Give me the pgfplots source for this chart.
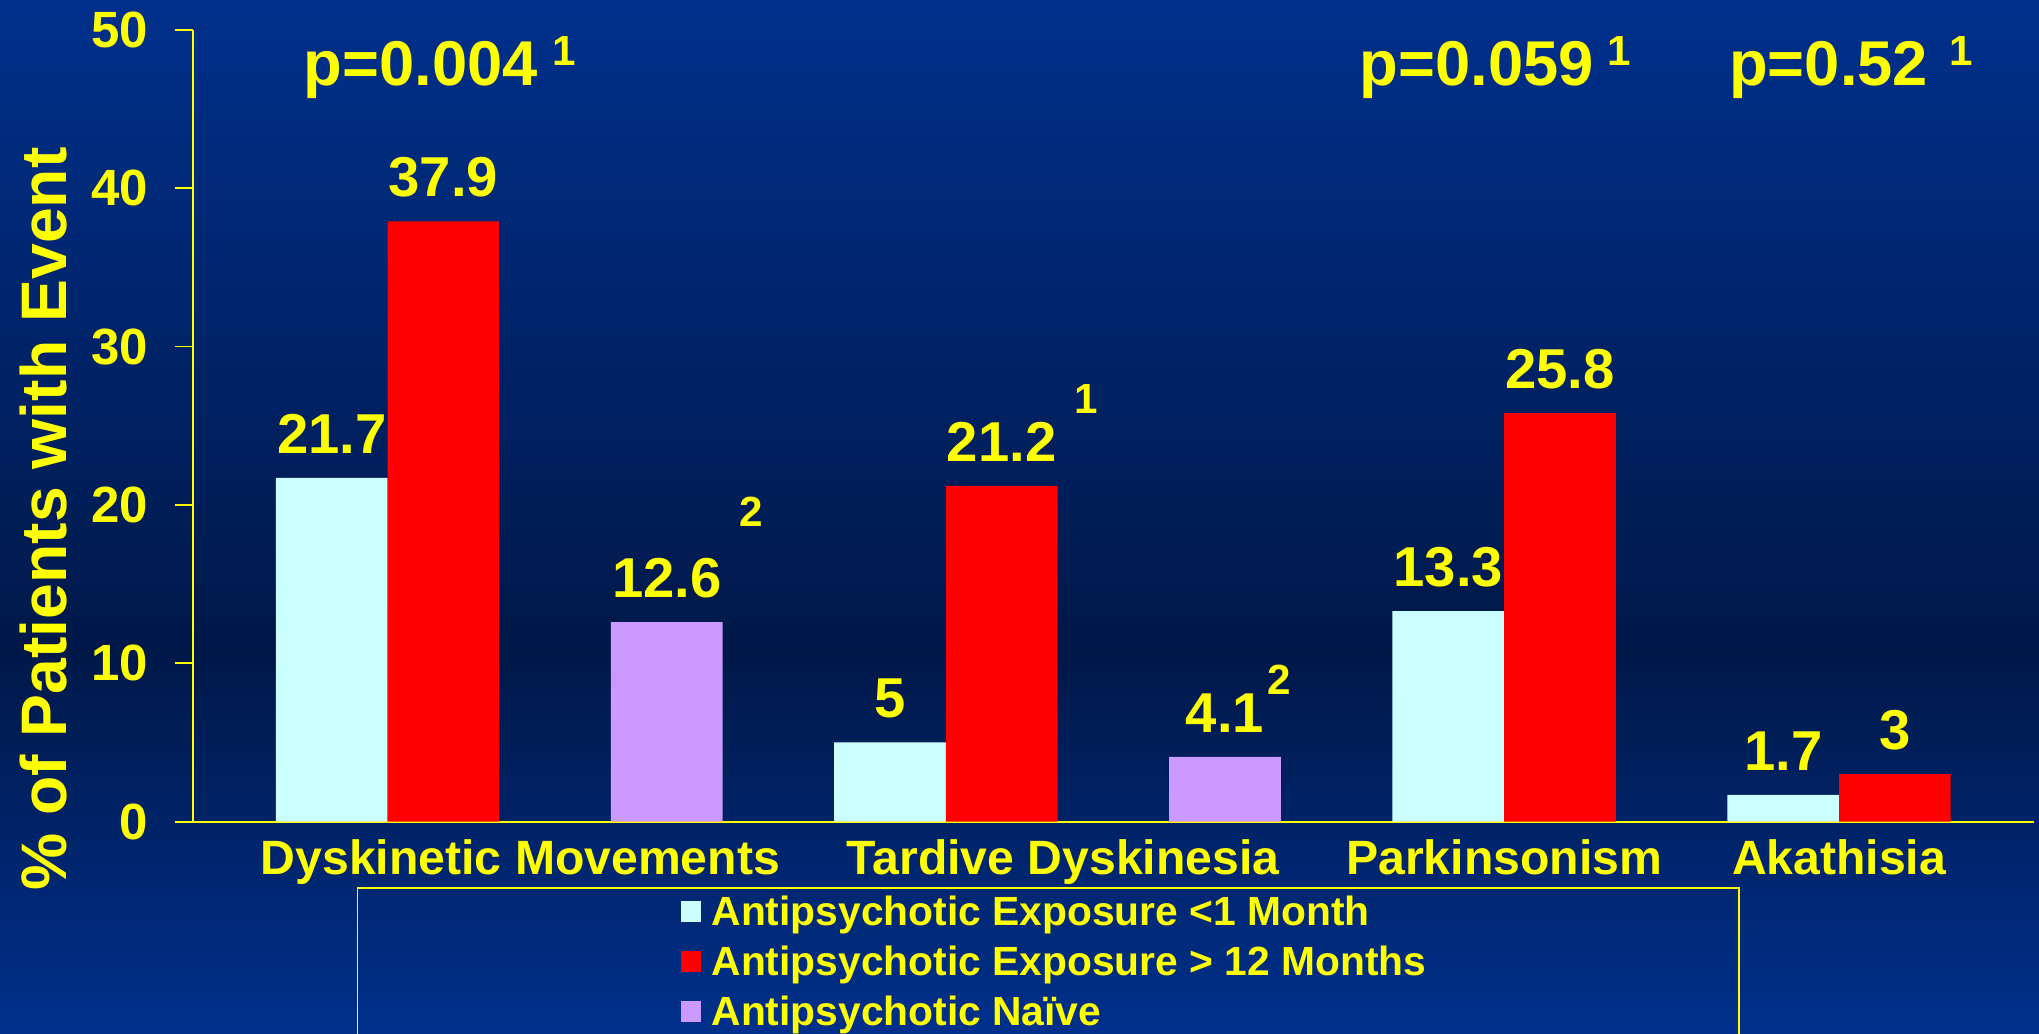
\documentclass[border=0pt]{standalone}
\usepackage{pgfplots}
\pgfplotsset{compat=1.18}
\usepackage{fontspec}
\setmainfont{Liberation Sans}
\definecolor{bgtop}{HTML}{00308C}
\definecolor{bgmid}{HTML}{001848}
\definecolor{bgbot}{HTML}{00308C}
\definecolor{barcyan}{HTML}{CCFFFF}
\definecolor{barred}{HTML}{FF0000}
\definecolor{barpurple}{HTML}{CC99FF}
\definecolor{txt}{HTML}{FFFF00}
\begin{document}
\begin{tikzpicture}
\useasboundingbox (0,0) rectangle (20.39,10.34);
\clip (0,0) rectangle (20.39,10.34);
\shade[top color=bgtop, bottom color=bgmid] (0,3.83) rectangle (20.39,10.35);
\shade[top color=bgmid, bottom color=bgbot] (0,-0.01) rectangle (20.39,3.84);
\draw[txt, line width=0.4pt] (3.576,-0.5) rectangle (17.388,1.46);
\begin{axis}[
  at={(1.93cm,2.123cm)}, anchor=south west,
  scale only axis, width=18.41cm, height=7.92cm,
  xmin=-1.2428, xmax=15.246, ymin=0, ymax=50,
  axis x line=bottom, axis y line=left,
  axis line style={-, txt, line width=0.5pt},
  clip=false,
  ybar, bar width=1, bar shift=0pt,
  ytick={0,10,20,30,40,50},
  yticklabels={0,10,20,30,40,50},
  tick align=outside,
  major tick length=0.18cm,
  ytick style={txt, line width=0.5pt},
  xtick={1.69,6.55,10.5,13.5},
  xticklabels={Dyskinetic Movements,Tardive Dyskinesia,Parkinsonism,Akathisia},
  xtick style={draw=none},
  yticklabel style={anchor=east, inner sep=0pt, xshift=-0.26cm, font=\bfseries\fontsize{14.5}{17}\selectfont, text=txt},
  xticklabel style={anchor=base, inner sep=0pt, yshift=-0.344cm, font=\bfseries\fontsize{13.7}{16}\selectfont, text=txt},
  ylabel={\% of Patients with Event},
  ylabel style={at={(axis description cs:-0.0811,0.382)}, anchor=center, font=\bfseries\fontsize{18.3}{22}\selectfont, text=txt},
  nodes near coords,
  point meta=explicit symbolic,
  every node near coord/.append style={anchor=base, inner sep=0pt, yshift=0.245cm, font=\bfseries\fontsize{16}{19}\selectfont, text=txt},
  legend image code/.code={\fill[#1,draw=none] (0cm,-0.057cm) rectangle (0.2cm,0.153cm);},
  legend cell align=left,
  legend style={at={(axis description cs:0.2645,-0.0875)}, anchor=north west, draw=none, fill=none, inner sep=0pt, column sep=0.11cm, row sep=0pt, font=\bfseries\fontsize{11.6}{13}\selectfont, text=txt, nodes={inner sep=0pt, text height=0.34cm, text depth=0.16cm}},
]
\addplot[fill=barcyan, draw=none] coordinates {(0,21.7)[21.7] (5,5)[5] (10,13.3)[13.3] (13,1.7)[1.7]};
\addlegendentry{Antipsychotic Exposure <1 Month}
\addplot[fill=barred, draw=none] coordinates {(1,37.9)[37.9] (6,21.2)[21.2] (11,25.8)[25.8] (14,3)[3]};
\addlegendentry{Antipsychotic Exposure > 12 Months}
\addplot[fill=barpurple, draw=none] coordinates {(3,12.6)[12.6] (8,4.1)[4.1]};
\addlegendentry{Antipsychotic Naïve}
% p-values
\node[anchor=base west, inner sep=0pt, text=txt, font=\bfseries\fontsize{18}{21}\selectfont] at (axis cs:-0.256,46.5) {p=0.004};
\node[anchor=base, inner sep=0pt, text=txt, font=\bfseries\fontsize{12}{14}\selectfont] at (axis cs:2.08,47.77) {1};
\node[anchor=base west, inner sep=0pt, text=txt, font=\bfseries\fontsize{18}{21}\selectfont] at (axis cs:9.201,46.5) {p=0.059};
\node[anchor=base, inner sep=0pt, text=txt, font=\bfseries\fontsize{12}{14}\selectfont] at (axis cs:11.53,47.77) {1};
\node[anchor=base west, inner sep=0pt, text=txt, font=\bfseries\fontsize{18}{21}\selectfont] at (axis cs:12.51,46.5) {p=0.52};
\node[anchor=base, inner sep=0pt, text=txt, font=\bfseries\fontsize{12}{14}\selectfont] at (axis cs:14.59,47.77) {1};
% superscripts
\node[anchor=base, inner sep=0pt, text=txt, font=\bfseries\fontsize{12}{14}\selectfont] at (axis cs:6.757,25.77) {1};
\node[anchor=base, inner sep=0pt, text=txt, font=\bfseries\fontsize{12}{14}\selectfont] at (axis cs:3.76,18.63) {2};
\node[anchor=base, inner sep=0pt, text=txt, font=\bfseries\fontsize{12}{14}\selectfont] at (axis cs:8.49,8.06) {2};
\end{axis}
\end{tikzpicture}
\end{document}
